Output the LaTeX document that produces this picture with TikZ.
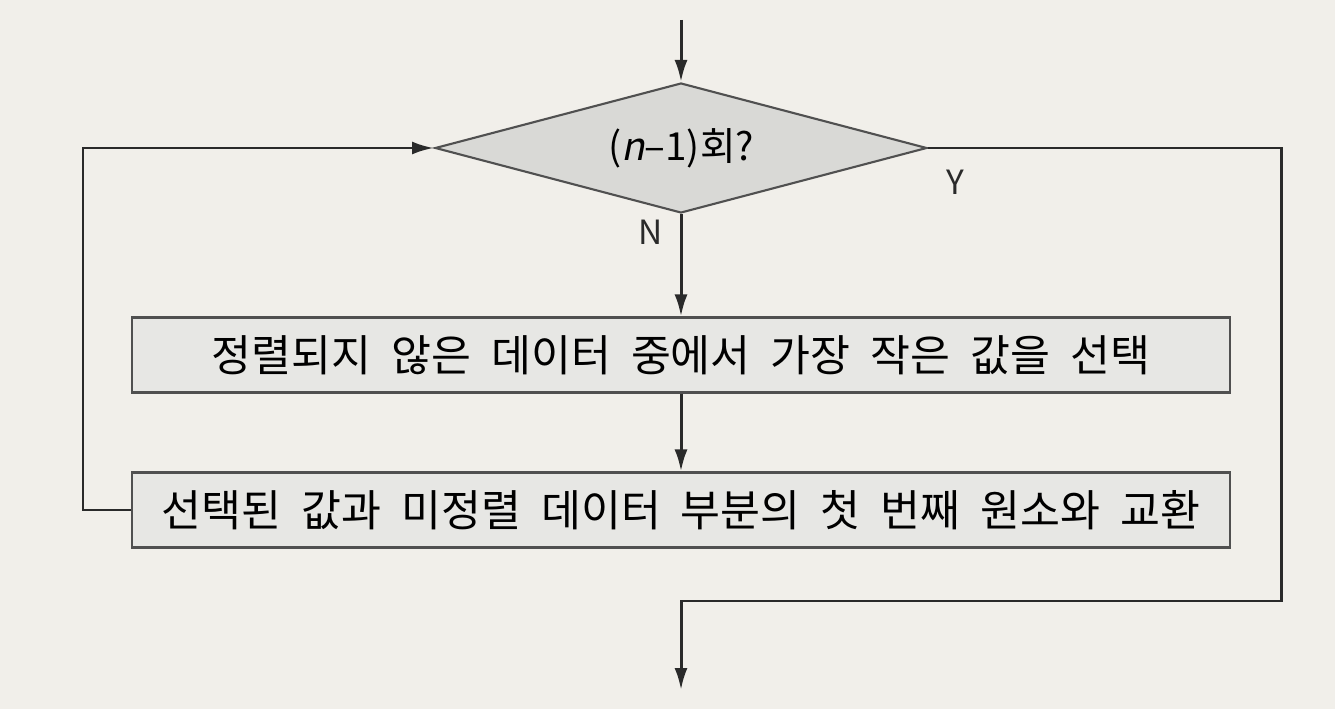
\documentclass[tikz,border=0pt]{standalone}
\usepackage{fontspec}
\setmainfont{Noto Sans CJK KR}
\newfontfamily\slantfont[FakeSlant=0.2]{Noto Sans CJK KR}
\usetikzlibrary{shapes.geometric, arrows.meta}

\definecolor{paper}{HTML}{F1EFEA}
\definecolor{ink}{HTML}{2A2A2A}
\definecolor{edge}{HTML}{505050}
\definecolor{diafill}{HTML}{D9D9D6}
\definecolor{boxfill}{HTML}{E7E7E4}
\newcommand{\boxfont}{\fontsize{24.7pt}{29pt}\selectfont\spaceskip 11.4pt\relax}

\begin{document}
\begin{tikzpicture}[x=0.02cm, y=-0.02cm,
    decision/.style={diamond, aspect=3.8, draw=edge, fill=diafill, line width=1.2pt,
      minimum width=9.84cm, minimum height=2.6cm, inner sep=0pt,
      font=\fontsize{22pt}{26pt}\selectfont},
    stepbox/.style={rectangle, draw=edge, fill=boxfill, line width=1.2pt,
      minimum width=21.96cm, minimum height=1.5cm, font=\boxfont},
    flow/.style={draw=ink, line width=1.7pt, -{Latex[length=0.44cm,width=0.26cm]}},
    yn/.style={font=\fontsize{19pt}{22pt}\selectfont, text=ink}]
    \fill[paper] (0, 0) rectangle (1335, 709);
    \useasboundingbox (0, 0) rectangle (1335, 709);
    % decision and the two steps
    \node[decision] (cnt) at (681, 148) {({\slantfont n}–1)회?};
    \node[stepbox] (pick) at (681, 355) {정렬되지 않은 데이터 중에서 가장 작은 값을 선택};
    \node[stepbox] (swap) at (681, 510) {선택된 값과 미정렬 데이터 부분의 첫 번째 원소와 교환};
    \node[yn] (yes) at (955, 182) {Y};
    \node[yn] (no) at (651, 232) {N};
    \coordinate (start) at (681, 20);
    \coordinate (stop) at (681, 690);
    \coordinate (back) at (83, 510);
    \coordinate (turn) at (1281, 601);
    % connectors
    \draw[flow] (start) -- (cnt);
    \draw[flow] (cnt) -- (pick);
    \draw[flow] (pick) -- (swap);
    \draw[flow] (swap.west) -- (back) |- (cnt.west);
    \draw[flow] (cnt.east) -| (turn) -| (stop);
  \end{tikzpicture}
\end{document}
